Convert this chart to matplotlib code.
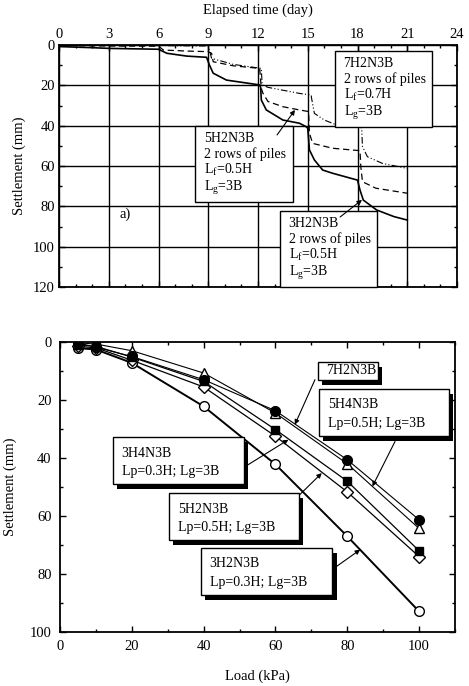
import matplotlib.pyplot as plt
from matplotlib.patches import Rectangle
from matplotlib.ticker import MultipleLocator

plt.rcParams["font.family"] = "Liberation Serif"
plt.rcParams["mathtext.fontset"] = "custom"
plt.rcParams["mathtext.rm"] = "Liberation Serif"
plt.rcParams["mathtext.it"] = "Liberation Serif:italic"
plt.rcParams["font.size"] = 10

# ------------------------------------------------------------
# a) settlement vs elapsed time
# ------------------------------------------------------------
t_3h2n3b = [0.0, 0.06, 1.9, 3.1, 6.0, 6.5, 7.7, 8.9, 9.07, 9.3, 10.1, 12.1, 12.16, 12.2,
            12.5, 13.5, 14.5, 14.9, 15.0, 15.1, 15.4, 15.9, 16.5, 18.0, 18.15, 18.35,
            19.15, 20.2, 21.0]
s_3h2n3b = [0.0, 0.8, 1.3, 1.7, 2.1, 4.1, 5.5, 6.1, 9.9, 14.0, 17.4, 19.8, 21.0, 27.3,
            32.2, 37.2, 38.8, 40.5, 41.3, 52.0, 57.0, 62.0, 63.6, 67.0, 71.9, 76.9,
            81.8, 85.1, 86.8]

t_5h2n3b = [0.0, 3.0, 6.0, 6.3, 7.7, 9.0, 9.2, 9.3, 10.5, 12.1, 12.2, 12.3, 12.6, 13.5,
            14.5, 15.05, 15.1, 15.3, 16.5, 18.15, 18.2, 18.3, 19.1, 21.0]
s_5h2n3b = [0.3, 0.5, 0.6, 2.5, 3.0, 3.3, 4.1, 8.3, 10.3, 11.6, 21.5, 24.0, 28.0, 30.6,
            32.2, 33.0, 43.8, 48.8, 51.2, 52.4, 60.3, 67.8, 71.0, 73.5]

t_7h2n3b = [0.0, 6.0, 9.0, 9.2, 10.5, 12.2, 12.25, 12.6, 14.5, 15.2, 15.25, 15.4, 16.0,
            16.6, 18.25, 18.3, 18.6, 19.5, 21.0]
s_7h2n3b = [0.2, 0.3, 0.5, 6.6, 9.6, 11.6, 19.8, 21.0, 24.0, 24.8, 27.3, 33.9, 37.2,
            39.2, 41.0, 50.4, 55.4, 58.7, 61.2]

# ------------------------------------------------------------
# b) settlement vs load
# ------------------------------------------------------------
load = [5, 10, 20, 40, 60, 80, 100]
s_3h2n3b_load = [2.1, 2.6, 7.2, 22.2, 42.2, 67.0, 92.9]
s_7h2n3b_load = [0.3, 1.8, 5.0, 13.0, 23.7, 40.6, 61.3]
s_5h4n3b_load = [0.3, 0.7, 3.0, 10.7, 24.5, 42.0, 64.3]
s_3h4n3b_load = [1.0, 1.5, 5.2, 13.6, 30.2, 48.0, 72.0]
s_5h2n3b_load = [1.5, 2.0, 6.3, 15.5, 32.5, 51.7, 74.0]


def style_axes(ax):
    for sp in ax.spines.values():
        sp.set_linewidth(1.3)
    ax.tick_params(which="both", direction="in", top=True, right=True, width=1.0)
    ax.tick_params(which="major", length=4)
    ax.tick_params(which="minor", length=2.5)


def label_box(ax, x0, y0, x1, y1, lines, pad_x, line_y, shadow=False):
    if shadow:
        ax.add_patch(Rectangle((x0 + 0.011, y0 - 0.018), x1 - x0, y1 - y0,
                               transform=ax.transAxes, fc="black", ec="black",
                               lw=0, zorder=5, clip_on=False))
    ax.add_patch(Rectangle((x0, y0), x1 - x0, y1 - y0, transform=ax.transAxes,
                           fc="white", ec="black", lw=1.0, zorder=6, clip_on=False))
    for txt, yy in zip(lines, line_y):
        ax.text(x0 + pad_x, y1 - yy, txt, transform=ax.transAxes, ha="left",
                va="center", fontsize=10, zorder=7)


fig = plt.figure(figsize=(4.69, 6.86), dpi=100)

# ---------------- top panel ----------------
ax1 = fig.add_axes([59 / 469, 1 - 287 / 686, 398 / 469, 242 / 686])
ax1.plot(t_3h2n3b, s_3h2n3b, color="black", lw=1.2, zorder=3)
ax1.plot(t_5h2n3b, s_5h2n3b, color="black", lw=0.9, ls=(0, (5, 3)), zorder=3)
ax1.plot(t_7h2n3b, s_7h2n3b, color="black", lw=0.8, ls=(0, (6, 2, 1, 2, 1, 2)), zorder=3)

ax1.set_xlim(0, 24)
ax1.set_ylim(120, 0)
ax1.xaxis.set_major_locator(MultipleLocator(3))
ax1.xaxis.set_minor_locator(MultipleLocator(1))
ax1.yaxis.set_major_locator(MultipleLocator(20))
ax1.yaxis.set_minor_locator(MultipleLocator(10))
ax1.grid(which="major", color="black", lw=1.0)
ax1.set_axisbelow(True)
style_axes(ax1)
ax1.tick_params(labeltop=True, labelbottom=False, labelsize=10.5, pad=3)
ax1.xaxis.set_label_position("top")
ax1.set_xlabel("Elapsed time (day)", fontsize=10.5, labelpad=10)
ax1.set_ylabel("Settlement (mm)", fontsize=10.5, labelpad=5)
ax1.text(4.0, 84, "a)", fontsize=10.5, ha="center", va="center")

top_lines = [0.052, 0.115, 0.18, 0.255]
label_box(ax1, 0.693, 0.661, 0.937, 0.975,
          ["7H2N3B", "2 rows of piles", r"L$_{\rm f}$=0.7H", r"L$_{\rm g}$=3B"],
          0.022, top_lines)
label_box(ax1, 0.342, 0.351, 0.588, 0.665,
          ["5H2N3B", "2 rows of piles", r"L$_{\rm f}$=0.5H", r"L$_{\rm g}$=3B"],
          0.022, top_lines)
label_box(ax1, 0.555, 0.0, 0.799, 0.314,
          ["3H2N3B", "2 rows of piles", r"L$_{\rm f}$=0.5H", r"L$_{\rm g}$=3B"],
          0.022, top_lines)

arrow = dict(arrowstyle="-|>", color="black", lw=0.8, mutation_scale=7,
             shrinkA=0, shrinkB=0)
ax1.annotate("", xy=(14.23, 32.2), xytext=(13.15, 44.6), arrowprops=arrow, zorder=8)
ax1.annotate("", xy=(18.27, 76.8), xytext=(16.95, 85.3), arrowprops=arrow, zorder=8)

# ---------------- bottom panel ----------------
ax2 = fig.add_axes([60 / 469, 1 - 632 / 686, 395 / 469, 290 / 686])
mk = dict(color="black", markersize=7, markeredgewidth=1.0, zorder=3)
ax2.plot(load, s_3h2n3b_load, marker="o", mfc="white", lw=1.4, **mk)
ax2.plot(load, s_5h2n3b_load, marker="D", mfc="white", lw=0.9, markersize=6.5,
         color="black", markeredgewidth=1.0, zorder=3)
ax2.plot(load, s_3h4n3b_load, marker="s", mfc="black", lw=0.9, markersize=5.5,
         color="black", zorder=3)
ax2.plot(load, s_5h4n3b_load, marker="^", mfc="white", lw=0.8, **mk)
ax2.plot(load, s_7h2n3b_load, marker="o", mfc="black", lw=0.8, **mk)

ax2.set_xlim(0, 110)
ax2.set_ylim(100, 0)
ax2.xaxis.set_major_locator(MultipleLocator(20))
ax2.xaxis.set_minor_locator(MultipleLocator(10))
ax2.yaxis.set_major_locator(MultipleLocator(20))
ax2.yaxis.set_minor_locator(MultipleLocator(10))
style_axes(ax2)
ax2.tick_params(labelsize=10.5, pad=6)
ax2.set_xlabel("Load (kPa)", fontsize=10.5, labelpad=12)
ax2.set_ylabel("Settlement (mm)", fontsize=10.5, labelpad=9)

bot_lines = [0.055, 0.12]
label_box(ax2, 0.653, 0.869, 0.805, 0.931, ["7H2N3B"], 0.02, [0.031], shadow=True)
label_box(ax2, 0.656, 0.676, 0.985, 0.838, ["5H4N3B", "Lp=0.5H; Lg=3B"], 0.022,
          bot_lines, shadow=True)
label_box(ax2, 0.134, 0.510, 0.466, 0.672, ["3H4N3B", "Lp=0.3H; Lg=3B"], 0.022,
          bot_lines, shadow=True)
label_box(ax2, 0.276, 0.317, 0.605, 0.479, ["5H2N3B", "Lp=0.5H; Lg=3B"], 0.022,
          bot_lines, shadow=True)
label_box(ax2, 0.357, 0.128, 0.689, 0.290, ["3H2N3B", "Lp=0.3H; Lg=3B"], 0.022,
          bot_lines, shadow=True)

ax2.annotate("", xy=(65.4, 28.5), xytext=(71, 13), arrowprops=arrow, zorder=8)
ax2.annotate("", xy=(87, 49.8), xytext=(93.3, 34.3), arrowprops=arrow, zorder=8)
ax2.annotate("", xy=(63.6, 33.7), xytext=(52.4, 42.3), arrowprops=arrow, zorder=8)
ax2.annotate("", xy=(72.9, 45.2), xytext=(66.8, 52.6), arrowprops=arrow, zorder=8)
ax2.annotate("", xy=(83.6, 71.6), xytext=(77, 77.4), arrowprops=arrow, zorder=8)

fig.savefig("out.png", dpi=100)
